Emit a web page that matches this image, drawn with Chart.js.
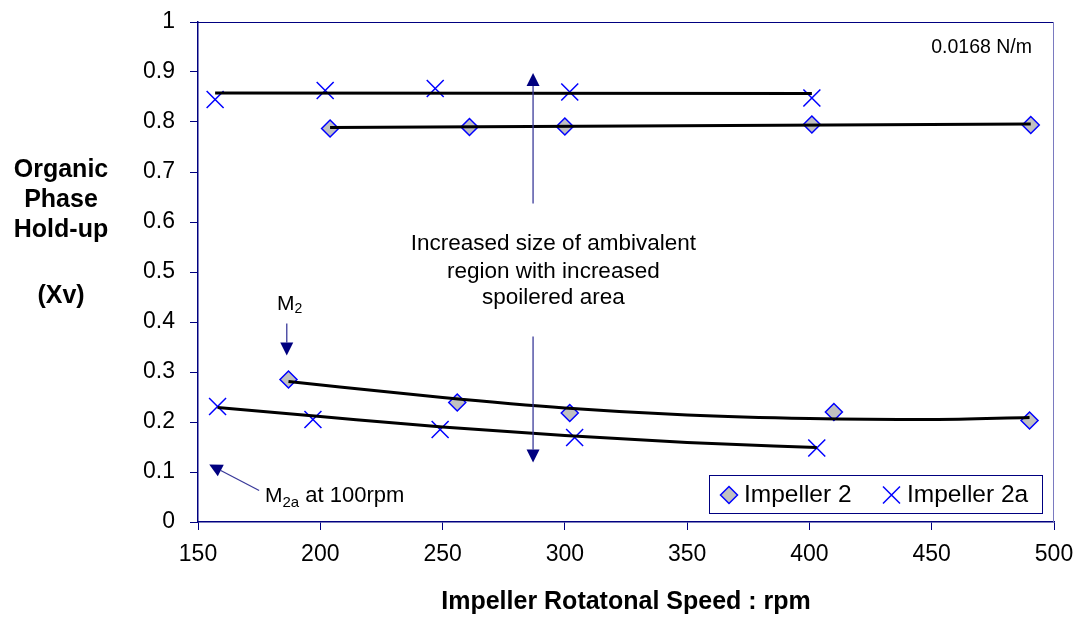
<!DOCTYPE html>
<html>
<head>
<meta charset="utf-8">
<script src="https://cdn.jsdelivr.net/npm/chart.js@4.4.1/dist/chart.umd.min.js"></script>
<style>
html,body{margin:0;padding:0;background:#fff;}
#c{display:block;}
</style>
</head>
<body>
<canvas id="c" width="1080" height="619" style="width:1080px;height:619px"></canvas>
<script>
// ---- data ----
const imp2X  = [204, 261, 300, 401, 490.5, 187, 256, 302, 410, 490];
const imp2Y  = [0.787, 0.790, 0.791, 0.795, 0.794, 0.285, 0.239, 0.218, 0.220, 0.203];
const imp2aX = [157, 202, 247, 302, 401, 158, 197, 249, 304, 403];
const imp2aY = [0.845, 0.863, 0.867, 0.860, 0.848, 0.231, 0.205, 0.185, 0.169, 0.148];

// trendlines
const trendUp2aX = [157, 401];
const trendUp2aY = [0.858, 0.857];
const trendUp2X  = [204, 490.5];
const trendUp2Y  = [0.789, 0.796];
const trendLo2X  = [187, 250, 300, 350, 400, 450, 490];
const trendLo2Y  = [0.281, 0.249, 0.228, 0.214, 0.207, 0.205, 0.209];
const trendLo2aX = [158, 200, 250, 300, 350, 403];
const trendLo2aY = [0.229, 0.211, 0.190, 0.173, 0.159, 0.149];

const xTicks = [150, 200, 250, 300, 350, 400, 450, 500];
const yTickLabels = ['0','0.1','0.2','0.3','0.4','0.5','0.6','0.7','0.8','0.9','1'];

const seriesNames = ['Impeller 2', 'Impeller 2a'];
const yTitleLines = ['Organic', 'Phase', 'Hold-up', '', '(Xv)'];
const xTitle = 'Impeller Rotatonal Speed : rpm';
const noteText = '0.0168 N/m';
const centerText = ['Increased size of ambivalent', 'region with increased', 'spoilered area'];

// annotation arrows in data units: [x1,y1,x2(tip),y2(tip)]
const arrows = [
  [287, 0.637, 287, 0.898],
  [287, 0.371, 287, 0.119],
  [186.3, 0.397, 186.3, 0.333],
  [175, 0.063, 154.6, 0.115]
];

const pts = (xs, ys) => xs.map((x, i) => ({x: x, y: ys[i]}));
const FONT = '"Liberation Sans", Arial, sans-serif';
const NAVY = '#000080';

function trend(xs, ys) {
  return {type: 'line', data: pts(xs, ys), borderColor: '#000', borderWidth: 3,
    pointRadius: 0, fill: false, cubicInterpolationMode: 'monotone', order: 0};
}

function drawDiamond(ctx, x, y, r) {
  ctx.beginPath();
  ctx.moveTo(x, y - r); ctx.lineTo(x + r, y); ctx.lineTo(x, y + r); ctx.lineTo(x - r, y);
  ctx.closePath();
  ctx.fillStyle = '#c0c0c0'; ctx.fill();
  ctx.strokeStyle = '#0000ff'; ctx.lineWidth = 1.5; ctx.stroke();
}
function drawX(ctx, x, y, h) {
  ctx.beginPath();
  ctx.moveTo(x - h, y - h); ctx.lineTo(x + h, y + h);
  ctx.moveTo(x + h, y - h); ctx.lineTo(x - h, y + h);
  ctx.strokeStyle = '#0000ff'; ctx.lineWidth = 1.5; ctx.stroke();
}

function zeroPad(s) { s.paddingTop = 0; s.paddingBottom = 0; s.paddingLeft = 0; s.paddingRight = 0; }

const deco = {
  id: 'deco',
  afterDraw(chart) {
    const ctx = chart.ctx, a = chart.chartArea;
    const xs = chart.scales.x, ys = chart.scales.y;
    const px = v => xs.getPixelForValue(v), py = v => ys.getPixelForValue(v);
    ctx.save();
    // plot border top/right
    ctx.strokeStyle = NAVY; ctx.lineWidth = 1;
    ctx.beginPath();
    ctx.moveTo(a.left, a.top + 0.5); ctx.lineTo(a.right, a.top + 0.5);
    ctx.stroke();
    ctx.strokeStyle = '#7a7ac0';
    ctx.beginPath();
    ctx.moveTo(a.right - 0.5, a.top); ctx.lineTo(a.right - 0.5, a.bottom);
    ctx.stroke();

    // arrows
    arrows.forEach(([x1, y1, x2, y2]) => {
      const X1 = px(x1), Y1 = py(y1), X2 = px(x2), Y2 = py(y2);
      const ang = Math.atan2(Y2 - Y1, X2 - X1);
      const L = 13, W = 6.5;
      const bx = X2 - Math.cos(ang) * L, by = Y2 - Math.sin(ang) * L;
      ctx.strokeStyle = '#3a3a9a'; ctx.lineWidth = 1.3;
      ctx.beginPath(); ctx.moveTo(X1, Y1); ctx.lineTo(bx, by); ctx.stroke();
      ctx.fillStyle = NAVY;
      ctx.beginPath();
      ctx.moveTo(X2, Y2);
      ctx.lineTo(bx + Math.sin(ang) * W, by - Math.cos(ang) * W);
      ctx.lineTo(bx - Math.sin(ang) * W, by + Math.cos(ang) * W);
      ctx.closePath(); ctx.fill();
    });

    ctx.fillStyle = '#000';
    // center text
    ctx.font = '22.5px ' + FONT;
    ctx.textAlign = 'center'; ctx.textBaseline = 'middle';
    const cy = [0.5566, 0.5006, 0.4486];
    centerText.forEach((t, i) => ctx.fillText(t, px(295.3), py(cy[i])));

    // M2 label
    ctx.textAlign = 'left'; ctx.textBaseline = 'alphabetic';
    let mx = px(182.3), my = py(0.4246);
    ctx.font = '21px ' + FONT;
    ctx.fillText('M', mx, my);
    mx += ctx.measureText('M').width;
    ctx.font = '14px ' + FONT;
    ctx.fillText('2', mx, my + 3);
    // M2a label
    mx = px(177.4); my = py(0.0394);
    ctx.font = '21px ' + FONT;
    ctx.fillText('M', mx, my);
    mx += ctx.measureText('M').width;
    ctx.font = '15px ' + FONT;
    ctx.fillText('2a', mx, my + 5);
    mx += ctx.measureText('2a').width;
    ctx.font = '22px ' + FONT;
    ctx.fillText(' at 100rpm', mx, my);

    // note
    ctx.font = '19.5px ' + FONT;
    ctx.textAlign = 'right'; ctx.textBaseline = 'middle';
    ctx.fillText(noteText, a.right - 22, a.top + 26);

    // legend
    const lx = a.right - 345, ly = a.bottom - 47, lw = 333, lh = 38;
    ctx.fillStyle = '#fff';
    ctx.fillRect(lx, ly, lw, lh);
    ctx.strokeStyle = NAVY; ctx.lineWidth = 1;
    ctx.strokeRect(lx + 0.5, ly + 0.5, lw, lh);
    const lcy = ly + lh / 2 + 1;
    drawDiamond(ctx, lx + 20, lcy, 8.5);
    drawX(ctx, lx + 182.5, lcy, 8.5);
    ctx.fillStyle = '#000';
    ctx.font = '24.5px ' + FONT;
    ctx.textAlign = 'left'; ctx.textBaseline = 'middle';
    ctx.fillText(seriesNames[0], lx + 35, lcy);
    ctx.fillText(seriesNames[1], lx + 198, lcy);

    // axis titles
    ctx.font = 'bold 25px ' + FONT;
    ctx.textAlign = 'center';
    const yl = [170, 200, 230, 263, 296];
    yTitleLines.forEach((t, i) => { if (t) ctx.fillText(t, 61, yl[i]); });
    ctx.fillText(xTitle, (a.left + a.right) / 2, 602);
    ctx.restore();
  }
};

new Chart(document.getElementById('c'), {
  type: 'scatter',
  data: {
    datasets: [
      trend(trendUp2aX, trendUp2aY),
      trend(trendUp2X, trendUp2Y),
      trend(trendLo2X, trendLo2Y),
      trend(trendLo2aX, trendLo2aY),
      {label: seriesNames[0], data: pts(imp2X, imp2Y), pointStyle: 'rectRot', pointRadius: 8.5,
       backgroundColor: '#c0c0c0', borderColor: '#0000ff', borderWidth: 1.5, order: 1},
      {label: seriesNames[1], data: pts(imp2aX, imp2aY), pointStyle: 'crossRot', pointRadius: 12,
       backgroundColor: '#0000ff', borderColor: '#0000ff', borderWidth: 1.5, order: 1}
    ]
  },
  options: {
    responsive: false, animation: false, devicePixelRatio: 1,
    layout: {padding: {top: 22, right: 26, left: 0, bottom: 0}},
    plugins: {legend: {display: false}, tooltip: {enabled: false}},
    scales: {
      x: {
        type: 'linear', min: xTicks[0], max: xTicks[xTicks.length - 1],
        afterBuildTicks(s) { s.ticks = xTicks.map(v => ({value: v})); },
        afterFit(s) { s.height = 97; zeroPad(s); },
        ticks: {color: '#000', font: {family: FONT, size: 23}, padding: 11, maxRotation: 0, autoSkip: false},
        grid: {drawOnChartArea: false, color: NAVY, tickLength: 8, lineWidth: 1},
        border: {color: NAVY, width: 1.5}
      },
      y: {
        min: 0, max: 1,
        afterBuildTicks(s) { s.ticks = yTickLabels.map((t, i) => ({value: i / 10})); },
        afterFit(s) { s.width = 198; zeroPad(s); },
        ticks: {color: '#000', font: {family: FONT, size: 23}, padding: 15,
          callback: (v, i) => yTickLabels[i]},
        grid: {drawOnChartArea: false, color: NAVY, tickLength: 8, lineWidth: 1},
        border: {color: NAVY, width: 1.5}
      }
    }
  },
  plugins: [deco]
});
</script>
</body>
</html>
